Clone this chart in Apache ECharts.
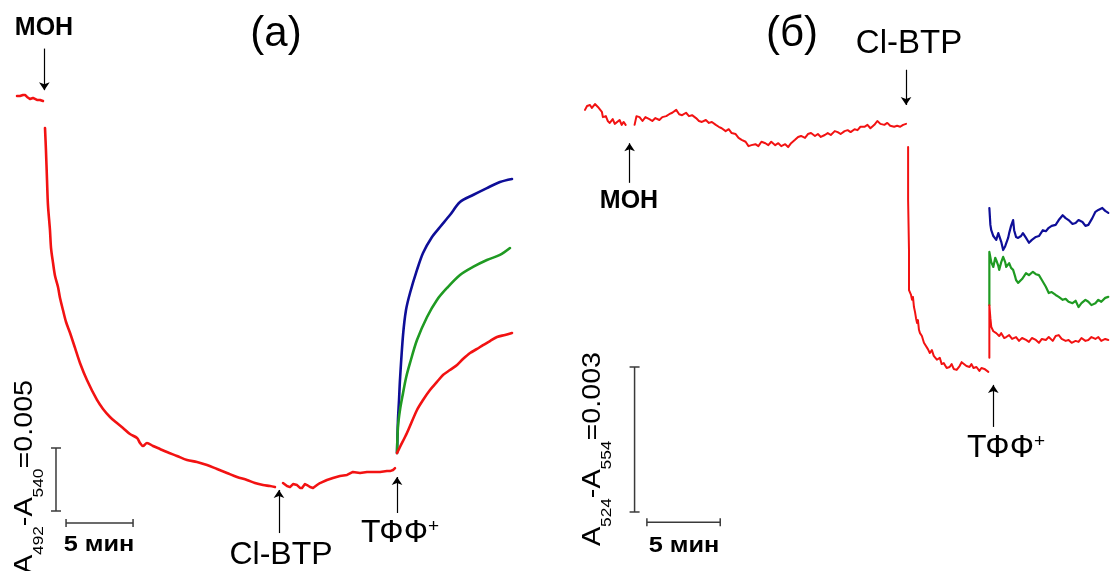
<!DOCTYPE html>
<html><head><meta charset="utf-8">
<script src="https://cdn.jsdelivr.net/npm/echarts@6/dist/echarts.min.js"></script>
<style>html,body{margin:0;padding:0;background:#fff}#c{width:1113px;height:571px}</style>
</head><body><div id="c"></div>
<script>
// ---------- Panel (a): time [min], A492-A540 [x10^-3] ----------
const preA = [[0,32.94],[0.22,32.94],[0.45,33.02],[0.60,33.02],[0.75,32.86],[0.97,32.70],[1.19,32.78],[1.34,32.70],[1.49,32.62],[1.72,32.62],[1.94,32.54]];
const decayA = [[2.09,30.40],[2.16,28.65],[2.24,26.27],[2.31,24.29],[2.46,22.30],[2.54,20.87],[2.69,19.68],[2.84,18.65],[3.06,17.78],[3.21,16.90],[3.43,15.95],[3.66,15.00],[3.96,14.13],[4.33,12.94],[4.70,11.75],[5.22,10.40],[5.97,8.81],[6.42,8.10],[6.94,7.46],[7.46,6.98],[7.91,6.59],[8.43,6.11],[8.96,5.79],[9.18,5.40],[9.40,5.16],[9.70,5.40],[10.15,5.16],[10.67,4.92],[11.19,4.68],[11.94,4.37],[12.69,4.05],[13.43,3.89],[14.18,3.65],[14.93,3.33],[15.67,3.02],[16.42,2.70],[17.16,2.46],[17.76,2.22],[18.36,2.06],[18.88,1.98],[19.25,1.90]];
const midA = [[19.85,2.22],[20.15,1.98],[20.37,1.90],[20.60,2.14],[20.90,2.06],[21.12,1.83],[21.27,1.83],[21.49,2.14],[21.64,2.06],[21.87,1.90],[22.09,1.83],[22.39,2.06],[22.61,2.22],[23.13,2.46],[23.58,2.62],[24.10,2.78],[24.63,2.86],[25.07,3.10],[25.60,3.02],[26.12,3.10],[26.57,3.10],[27.09,3.10],[27.61,3.17],[27.84,3.17],[28.06,3.25],[28.21,3.41]];
const redA = [[28.36,4.60],[28.58,5.08],[29.10,6.19],[29.85,8.02],[30.30,8.81],[30.82,9.60],[31.34,10.24],[31.79,10.79],[32.31,11.19],[32.84,11.59],[33.28,12.06],[33.81,12.54],[34.33,12.86],[34.78,13.17],[35.30,13.49],[35.82,13.81],[36.42,13.97],[36.94,14.13]];
const greenA = [[28.36,4.60],[28.43,6.67],[28.58,8.02],[28.81,9.37],[29.03,10.56],[29.33,11.75],[29.85,13.57],[30.60,15.40],[31.34,16.75],[32.09,17.70],[33.06,18.73],[34.03,19.37],[35.07,19.92],[36.04,20.32],[36.79,20.87]];
const blueA = [[28.36,4.60],[28.43,7.22],[28.51,8.81],[28.58,10.40],[28.81,13.97],[29.03,15.95],[29.33,17.30],[29.85,19.13],[30.30,20.48],[30.97,21.75],[31.57,22.54],[32.31,23.49],[33.06,24.52],[34.03,25.08],[35.07,25.63],[36.04,26.11],[36.94,26.35]];
const scaleYA = [[2.91,0],[2.91,5]];          // 0.005 absorbance bar
const scaleXA = [[3.66,-0.95],[8.66,-0.95]];  // 5 min bar
const arrowsA = [[2.04,36.7,33.4],[19.55,-1.75,1.67],[28.36,-0.16,2.70]]; // t, from, to

// ---------- Panel (б): time [min], A524-A554 [x10^-3] ----------
const preB = [[0,8.32],[0.14,8.40],[0.34,8.42],[0.47,8.36],[0.68,8.44],[0.88,8.38],[1.01,8.38],[1.15,8.28],[1.22,8.17],[1.42,8.19],[1.55,8.09],[1.69,8.05],[1.89,8.13],[2.03,8.03],[2.16,8.07],[2.36,8.11],[2.50,8.01],[2.64,8.07],[2.77,8.01]];
const midB = [[3.38,8.01],[3.51,8.19],[3.72,8.17],[3.92,8.09],[4.12,8.17],[4.39,8.13],[4.59,8.09],[4.80,8.15],[5.07,8.11],[5.27,8.17],[5.54,8.19],[5.74,8.23],[5.95,8.26],[6.22,8.32],[6.42,8.23],[6.62,8.21],[6.89,8.26],[7.09,8.19],[7.30,8.21],[7.57,8.15],[7.77,8.09],[7.97,8.07],[8.24,8.11],[8.45,8.05],[8.65,8.07],[8.92,8.01],[9.12,7.97],[9.32,7.94],[9.59,7.88],[9.80,7.92],[10.00,7.84],[10.27,7.82],[10.47,7.74],[10.68,7.70],[10.95,7.66],[11.15,7.57],[11.35,7.59],[11.62,7.61],[11.82,7.57],[12.03,7.66],[12.30,7.63],[12.50,7.59],[12.70,7.66],[12.97,7.59],[13.18,7.63],[13.38,7.57],[13.65,7.61],[13.85,7.55],[14.05,7.63],[14.32,7.70],[14.53,7.76],[14.73,7.78],[15.00,7.74],[15.20,7.82],[15.41,7.84],[15.68,7.78],[15.88,7.82],[16.08,7.76],[16.35,7.80],[16.55,7.84],[16.76,7.80],[17.03,7.88],[17.23,7.86],[17.43,7.82],[17.70,7.88],[17.91,7.90],[18.11,7.86],[18.38,7.92],[18.58,7.90],[18.78,7.97],[19.05,7.97],[19.26,8.01],[19.46,7.94],[19.73,8.01],[19.93,8.09],[20.14,8.03],[20.41,8.01],[20.61,8.05],[20.81,7.99],[21.08,7.97],[21.28,7.99],[21.49,7.97],[21.69,8.01],[21.89,8.03]];
const dropB = [[22.03,7.55],[22.03,6.46],[22.09,5.42],[22.09,4.59],[22.23,4.49],[22.30,4.39],[22.36,4.45],[22.43,4.24],[22.50,4.14],[22.57,4.01],[22.64,3.91],[22.70,3.97],[22.77,3.77],[22.84,3.70],[22.97,3.64],[23.11,3.50],[23.24,3.54],[23.38,3.37],[23.51,3.29],[23.65,3.35],[23.78,3.23],[23.99,3.15],[24.19,3.19],[24.32,3.06],[24.46,3.08],[24.66,2.98],[24.86,3.00],[25.00,3.06],[25.14,2.96],[25.34,2.94],[25.54,3.02],[25.68,3.10],[25.81,3.08],[26.01,3.02],[26.22,3.00],[26.35,3.06],[26.49,2.98],[26.69,3.00],[26.89,2.92],[27.03,2.98],[27.23,2.96],[27.36,2.94],[27.50,2.90]];
const redB = [[27.57,3.19],[27.57,4.28],[27.64,4.01],[27.70,3.83],[27.84,3.74],[28.04,3.70],[28.24,3.64],[28.38,3.70],[28.58,3.60],[28.72,3.62],[28.92,3.66],[29.12,3.58],[29.39,3.62],[29.59,3.54],[29.80,3.60],[30.07,3.56],[30.27,3.52],[30.47,3.60],[30.74,3.56],[30.95,3.50],[31.15,3.58],[31.42,3.56],[31.62,3.62],[31.89,3.54],[32.09,3.64],[32.30,3.66],[32.50,3.58],[32.77,3.54],[32.97,3.56],[33.18,3.50],[33.45,3.54],[33.65,3.52],[33.85,3.60],[34.12,3.54],[34.32,3.56],[34.53,3.62],[34.80,3.58],[35.00,3.62],[35.20,3.54],[35.47,3.58],[35.68,3.56]];
const greenB = [[27.57,4.28],[27.57,5.38],[27.70,5.17],[27.84,5.07],[27.97,5.26],[28.04,5.21],[28.18,5.09],[28.24,5.01],[28.38,5.17],[28.51,5.28],[28.65,5.17],[28.72,5.07],[28.85,5.11],[28.92,5.15],[29.05,5.05],[29.19,5.01],[29.32,4.88],[29.39,4.80],[29.53,4.74],[29.59,4.74],[29.80,4.82],[30.07,4.94],[30.27,4.90],[30.54,4.97],[30.74,4.92],[30.95,4.90],[31.15,4.80],[31.42,4.66],[31.62,4.53],[31.82,4.55],[32.09,4.49],[32.30,4.45],[32.57,4.39],[32.77,4.41],[32.97,4.35],[33.24,4.32],[33.45,4.37],[33.65,4.24],[33.85,4.32],[34.12,4.39],[34.32,4.35],[34.53,4.28],[34.80,4.32],[35.00,4.39],[35.20,4.35],[35.47,4.43],[35.68,4.45]];
const blueB = [[27.57,6.29],[27.64,5.94],[27.70,5.83],[27.84,5.71],[28.04,5.63],[28.18,5.77],[28.24,5.73],[28.38,5.59],[28.51,5.42],[28.65,5.50],[28.72,5.48],[28.85,5.67],[28.92,5.77],[29.05,5.92],[29.19,6.04],[29.26,5.83],[29.39,5.69],[29.53,5.67],[29.59,5.63],[29.73,5.71],[29.86,5.77],[30.07,5.67],[30.27,5.57],[30.47,5.63],[30.74,5.69],[30.95,5.71],[31.22,5.83],[31.42,5.81],[31.62,5.88],[31.82,5.92],[32.09,5.94],[32.30,6.04],[32.57,6.14],[32.77,6.08],[32.97,6.04],[33.24,5.96],[33.45,5.98],[33.65,6.04],[33.92,6.00],[34.12,5.92],[34.32,5.94],[34.59,6.08],[34.80,6.21],[35.00,6.25],[35.27,6.29],[35.47,6.23],[35.68,6.19]];
const scaleYB = [[3.38,0],[3.38,3]];          // 0.003 absorbance bar
const scaleXB = [[4.22,-0.21],[9.22,-0.21]];  // 5 min bar
const arrowsB = [[3.04,6.81,7.63],[21.89,9.15,8.42],[27.84,1.76,2.63]];

// ---------- styling ----------
const F = '"Liberation Sans", Arial, Helvetica, sans-serif';
const RED = '#f21212', GREEN = '#1f9a22', BLUE = '#0e0e98';

function trace(data, color, width, i, smooth) {
  return {type:'line', xAxisIndex:i, yAxisIndex:i, data, symbol:'none', showSymbol:false,
    smooth: smooth || false,
    lineStyle:{color, width, join:'round', cap:'round'}, silent:true, animation:false, z:3};
}
function bar(data, size, i, arrows) {
  const s = {type:'line', xAxisIndex:i, yAxisIndex:i, data, symbol:'rect', symbolSize:size, showSymbol:true,
    itemStyle:{color:'#3a3a3a'}, lineStyle:{color:'#3a3a3a', width:1.5}, silent:true, animation:false, z:2};
  if (arrows) {
    s.markLine = {silent:true, animation:false, symbol:['none','arrow'], symbolSize:8,
      label:{show:false}, lineStyle:{color:'#000', width:1.2, type:'solid'},
      data: arrows.map(a => [{coord:[a[0],a[1]]},{coord:[a[0],a[2]]}])};
  }
  return s;
}
function txt(x, y, text, size, weight, extra) {
  return Object.assign({type:'text', x, y, silent:true, z:10, style:{text, fill:'#000',
    font: (weight||'normal') + ' ' + size + 'px ' + F, fontSize:size, fontFamily:F, fontWeight:weight||'normal',
    align:'center', verticalAlign:'middle', textAlign:'center', textVerticalAlign:'middle'}}, extra||{});
}
function ylabel(x, y, a, b, val) {
  const m = {fontSize:25, fontFamily:F, lineHeight:26, verticalAlign:'top', fill:'#000'};
  const s = {fontSize:15, fontFamily:F, lineHeight:34, verticalAlign:'bottom', fill:'#000'};
  return {type:'text', x, y, rotation:Math.PI/2, scaleX:1.15, silent:true, z:10,
    style:{text:'{m|A}{s|'+a+'}{m|-A}{s|'+b+'}{m|='+val+'}', rich:{m, s},
      align:'center', verticalAlign:'top', textAlign:'center', textVerticalAlign:'top'}};
}
function tpp(x, y) {
  return {type:'text', x, y, silent:true, z:10,
    style:{text:'{m|ТФФ}{p|+}', rich:{
      m:{fontSize:32, fontFamily:F, lineHeight:36, verticalAlign:'top', fill:'#000'},
      p:{fontSize:19, fontFamily:F, lineHeight:20, verticalAlign:'top', fill:'#000'}},
      align:'center', verticalAlign:'top', textAlign:'center', textVerticalAlign:'top'}};
}

const chart = echarts.init(document.getElementById('c'), null, {renderer:'canvas'});
chart.setOption({
  animation:false,
  backgroundColor:'#fff',
  grid:[{left:17, width:536, top:32.2, height:529.2},{left:585, width:532.8, top:52.83, height:507.5}],
  xAxis:[{gridIndex:0, type:'value', min:0, max:40, show:false},{gridIndex:1, type:'value', min:0, max:36, show:false}],
  yAxis:[{gridIndex:0, type:'value', min:-4, max:38, show:false},{gridIndex:1, type:'value', min:-1, max:9.5, show:false}],
  series:[
    trace(preA, RED, 2.5, 0), trace(decayA, RED, 2.6, 0, 0.3), trace(midA, RED, 2.5, 0),
    trace(blueA, BLUE, 2.6, 0, 0.3), trace(greenA, GREEN, 2.6, 0, 0.3), trace(redA, RED, 2.6, 0, 0.3),
    bar(scaleYA, [10,1.5], 0, arrowsA), bar(scaleXA, [1.5,8], 0),
    trace(preB, RED, 2, 1), trace(midB, RED, 2, 1), trace(dropB, RED, 2, 1),
    trace(blueB, BLUE, 2.2, 1), trace(greenB, GREEN, 2.2, 1), trace(redB, RED, 2, 1),
    bar(scaleYB, [10,1.5], 1, arrowsB), bar(scaleXB, [1.5,8], 1)
  ],
  graphic:[
    txt(276, 34, '(a)', 42),
    txt(44, 28, 'МОН', 25, 'bold'),
    txt(281, 555, 'Cl-BTP', 32),
    tpp(400, 517),
    txt(99, 545, '5 мин', 22, 'bold', {scaleX:1.15}),
    ylabel(12.6, 477, '492', '540', '0.005'),
    txt(792, 34, '(б)', 42),
    txt(909, 44, 'Cl-BTP', 33),
    txt(629, 201, 'МОН', 25, 'bold'),
    tpp(1006, 432),
    txt(684, 546, '5 мин', 22, 'bold', {scaleX:1.15}),
    ylabel(580.6, 449, '524', '554', '0.003')
  ]
});
</script></body></html>
